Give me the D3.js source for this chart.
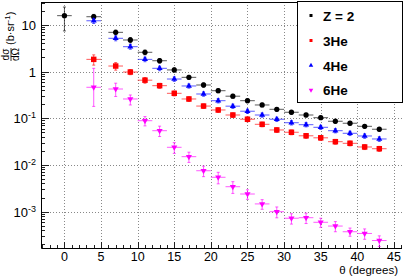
<!DOCTYPE html>
<html>
<head>
<meta charset="utf-8">
<script src="https://cdn.jsdelivr.net/npm/d3@7"></script>
<style>
  body { margin: 0; background: #fff; }
  svg { display: block; font-family: "Liberation Sans", Arial, sans-serif; }
</style>
</head>
<body>
<svg width="407" height="277"></svg>
<script>
// angles (degrees), Z=2 starts at 0, the isotopes at 4
const anglesZ2 = [0, 4, 7, 9, 11, 13, 15, 17, 19, 21, 23, 25, 27, 29, 31, 33, 35, 37, 39, 41, 43];
const anglesIso = [4, 7, 9, 11, 13, 15, 17, 19, 21, 23, 25, 27, 29, 31, 33, 35, 37, 39, 41, 43];
const binHalfWidth = 1;

const z2Vals = [15.7, 14.9, 6.9, 4.73, 2.58, 1.70, 1.08, 0.75, 0.514, 0.388, 0.296, 0.237, 0.192, 0.155, 0.134, 0.117, 0.1025, 0.086, 0.078, 0.067, 0.058];
const z2Err = [8.3, 1.8, 0.8, 0.6, 0.3, 0.18, 0.11, 0.075, 0.05, 0.037, 0.028, 0.022, 0.017, 0.014, 0.012, 0.01, 0.0085, 0.0075, 0.0065, 0.0055, 0.005];

const he3Vals = [1.82, 1.31, 0.975, 0.652, 0.497, 0.341, 0.258, 0.182, 0.150, 0.117, 0.095, 0.074, 0.056, 0.050, 0.042, 0.038, 0.0314, 0.029, 0.0242, 0.0222];
const he3Err = [0.45, 0.24, 0.12, 0.09, 0.06, 0.04, 0.03, 0.02, 0.017, 0.013, 0.011, 0.0085, 0.0065, 0.0058, 0.005, 0.0045, 0.0037, 0.0034, 0.0029, 0.0027];

const he4Vals = [12.2, 5.14, 3.40, 1.82, 1.17, 0.69, 0.49, 0.33, 0.237, 0.181, 0.141, 0.117, 0.095, 0.080, 0.0726, 0.0638, 0.054, 0.0475, 0.0416, 0.0359];
const he4Err = [1.5, 0.6, 0.4, 0.2, 0.13, 0.075, 0.05, 0.035, 0.025, 0.019, 0.015, 0.012, 0.01, 0.0085, 0.0075, 0.0065, 0.0055, 0.005, 0.0045, 0.004];

const he6Vals = [0.459, 0.422, 0.258, 0.0884, 0.054, 0.0238, 0.0150, 0.0075, 0.00543, 0.00341, 0.00238, 0.00146, 0.000995, 0.00072, 0.00074, 0.00059, 0.00049, 0.00037, 0.00034, 0.00024];
const he6ErrLo = [0.28, 0.13, 0.066, 0.02, 0.0135, 0.0062, 0.0037, 0.0019, 0.0015, 0.00096, 0.00055, 0.00034, 0.00026, 0.00018, 0.000185, 0.00013, 0.00012, 0.000074, 0.000085, 0.000062];
const he6ErrHi = [0.71, 0.14, 0.056, 0.02, 0.0135, 0.0062, 0.0037, 0.0019, 0.0015, 0.00096, 0.00055, 0.00034, 0.00026, 0.00018, 0.000185, 0.00013, 0.00012, 0.000074, 0.000085, 0.000062];

const xTicks = [0, 5, 10, 15, 20, 25, 30, 35, 40, 45];
const yDecades = [1e-3, 1e-2, 1e-1, 1, 10];
const yDecadeLabels = [["10", "-3"], ["10", "-2"], ["10", "-1"], ["1", ""], ["10", ""]];

const series = [
  {name: "Z = 2", color: "#000000", sym: d3.symbolCircle, size: 22, x: anglesZ2, v: z2Vals, lo: z2Err, hi: z2Err},
  {name: "3He", color: "#ff0000", sym: d3.symbolSquare, size: 30, x: anglesIso, v: he3Vals, lo: he3Err, hi: he3Err},
  {name: "4He", color: "#0000ff", sym: d3.symbolTriangle, size: 16, x: anglesIso, v: he4Vals, lo: he4Err, hi: he4Err},
  {name: "6He", color: "#ff00ff", sym: d3.symbolTriangle, size: 16, flip: true, x: anglesIso, v: he6Vals, lo: he6ErrLo, hi: he6ErrHi}
];

const padL = 41, padR = 402, padT = 2, padB = 248;

const x = d3.scaleLinear().domain([-3.2, 46.1]).range([padL, padR]);
const y = d3.scaleLog().domain([1.66e-4, 30.8]).range([padB, padT]);

const svg = d3.select("svg");

// grid
const grid = svg.append("g").attr("stroke", "#888").attr("stroke-dasharray", "1,2").attr("stroke-width", 1);
grid.selectAll(".gx").data(xTicks).enter().append("line")
  .attr("x1", d => Math.round(x(d)) + 0.5).attr("x2", d => Math.round(x(d)) + 0.5)
  .attr("y1", padT).attr("y2", padB);
grid.selectAll(".gy").data(yDecades).enter().append("line")
  .attr("x1", padL).attr("x2", padR)
  .attr("y1", d => Math.round(y(d)) + 0.5).attr("y2", d => Math.round(y(d)) + 0.5);

// y ticks (log, inward)
const yMinor = [];
for (let e = -4; e <= 1; e++) for (let m = 2; m <= 9; m++) {
  const v = m * Math.pow(10, e);
  if (v >= y.domain()[0] && v <= y.domain()[1]) yMinor.push(v);
}
const ticks = svg.append("g").attr("stroke", "#222").attr("stroke-width", 1).attr("shape-rendering", "crispEdges");
ticks.selectAll(".ym").data(yMinor).enter().append("line")
  .attr("x1", padL).attr("x2", padL + 4)
  .attr("y1", d => Math.round(y(d)) + 0.5).attr("y2", d => Math.round(y(d)) + 0.5);
ticks.selectAll(".yM").data(yDecades).enter().append("line")
  .attr("x1", padL).attr("x2", padL + 8)
  .attr("y1", d => Math.round(y(d)) + 0.5).attr("y2", d => Math.round(y(d)) + 0.5);

// x ticks
const xMinor = d3.range(-3, 47).filter(d => d % 5 !== 0);
ticks.selectAll(".xm").data(xMinor).enter().append("line")
  .attr("x1", d => Math.round(x(d)) + 0.5).attr("x2", d => Math.round(x(d)) + 0.5)
  .attr("y1", padB).attr("y2", padB - 3);
ticks.selectAll(".xM").data(xTicks).enter().append("line")
  .attr("x1", d => Math.round(x(d)) + 0.5).attr("x2", d => Math.round(x(d)) + 0.5)
  .attr("y1", padB).attr("y2", padB - 6);

// frame
svg.append("path")
  .attr("d", `M${padL + 0.5},${padT + 0.5}H${padR}M${padL + 0.5},${padT}V${padB + 0.5}H${padR}`)
  .attr("fill", "none").attr("stroke", "#000").attr("stroke-width", 1);

// tick labels
svg.selectAll(".xl").data(xTicks).enter().append("text")
  .attr("x", d => x(d)).attr("y", 261).attr("text-anchor", "middle")
  .attr("font-size", 12.5).text(d => d);

const yl = svg.selectAll(".yl").data(yDecades).enter().append("text")
  .attr("x", 36).attr("y", d => y(d) + 5).attr("text-anchor", "end").attr("font-size", 13);
yl.each(function(d, i) {
  const t = d3.select(this);
  const lab = yDecadeLabels[i];
  if (lab[1]) {
    t.append("tspan").text(lab[0]);
    t.append("tspan").attr("dy", -5).attr("font-size", 9).text(lab[1]);
  } else {
    t.text(lab[0]);
  }
});

// axis titles
svg.append("text").attr("x", 398).attr("y", 274).attr("text-anchor", "end")
  .attr("font-size", 11.5).text("θ (degrees)");

const yt = svg.append("g").attr("transform", "translate(11,62) rotate(-90)");
yt.append("text").attr("x", 7.5).attr("y", -2).attr("text-anchor", "middle").attr("font-size", 10).text("dσ");
yt.append("line").attr("x1", 1).attr("x2", 14).attr("y1", 0).attr("y2", 0).attr("stroke", "#000").attr("stroke-width", 0.8);
yt.append("text").attr("x", 7.5).attr("y", 8).attr("text-anchor", "middle").attr("font-size", 10).text("dΩ");
const ytu = yt.append("text").attr("x", 17).attr("y", 3).attr("font-size", 11);
ytu.append("tspan").text("(b·sr");
ytu.append("tspan").attr("dy", -4).attr("font-size", 8).text("-1");
ytu.append("tspan").attr("dy", 4).text(")");

// data
series.forEach(s => {
  const pts = s.x.map((a, i) => ({a, v: s.v[i], lo: s.lo[i], hi: s.hi[i]}));
  const g = svg.append("g");
  const eb = g.append("g").attr("stroke", s.color).attr("stroke-opacity", 0.65).attr("stroke-width", 1);
  eb.selectAll(".h").data(pts).enter().append("line")
    .attr("x1", d => x(d.a - binHalfWidth)).attr("x2", d => x(d.a + binHalfWidth))
    .attr("y1", d => y(d.v)).attr("y2", d => y(d.v));
  eb.selectAll(".v").data(pts).enter().append("line")
    .attr("x1", d => x(d.a)).attr("x2", d => x(d.a))
    .attr("y1", d => Math.min(padB, y(Math.max(d.v - d.lo, 1e-9)))).attr("y2", d => y(d.v + d.hi));
  eb.selectAll(".c1").data(pts).enter().append("line")
    .attr("x1", d => x(d.a) - 1.5).attr("x2", d => x(d.a) + 1.5)
    .attr("y1", d => y(d.v + d.hi)).attr("y2", d => y(d.v + d.hi));
  eb.selectAll(".c2").data(pts).enter().append("line")
    .attr("x1", d => x(d.a) - 1.5).attr("x2", d => x(d.a) + 1.5)
    .attr("y1", d => y(d.v - d.lo)).attr("y2", d => y(d.v - d.lo));
  g.selectAll(".m").data(pts).enter().append("path")
    .attr("d", d3.symbol().type(s.sym).size(s.size))
    .attr("transform", d => `translate(${x(d.a)},${y(d.v)})` + (s.flip ? " rotate(180)" : ""))
    .attr("fill", s.color);
});

// legend
const lg = svg.append("g");
lg.append("rect").attr("x", 297.5).attr("y", 1.5).attr("width", 105).attr("height", 101)
  .attr("fill", "#fff").attr("stroke", "#000").attr("stroke-width", 1);
const rows = [15.5, 40.5, 65.5, 90];
series.forEach((s, i) => {
  lg.append("path")
    .attr("d", d3.symbol().type(s.sym === d3.symbolCircle ? d3.symbolSquare : s.sym).size(9))
    .attr("transform", `translate(311,${rows[i]})` + (s.flip ? " rotate(180)" : ""))
    .attr("fill", s.color);
  lg.append("text").attr("x", 323).attr("y", rows[i] + 5)
    .attr("font-size", 13.5).attr("font-weight", "bold").text(s.name);
});
</script>
</body>
</html>
